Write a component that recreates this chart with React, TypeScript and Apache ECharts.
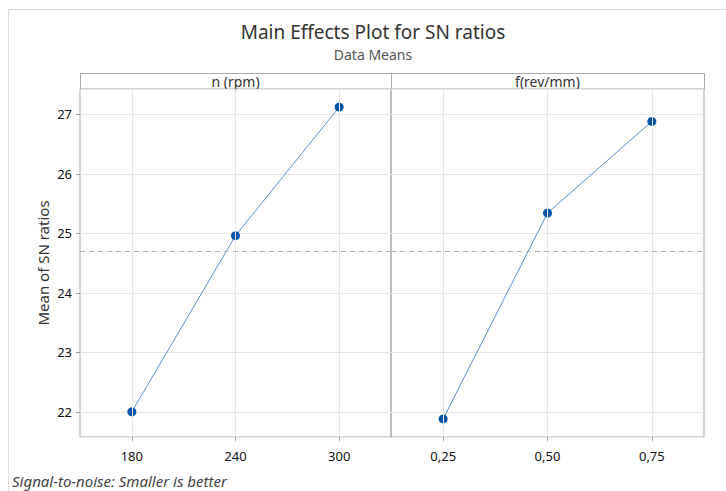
import React, { useEffect, useRef } from "react";
import * as echarts from "echarts";

const titleText = "Main Effects Plot for SN ratios";
const subtitleText = "Data Means";
const footerText = "Signal-to-noise: Smaller is better";
const yAxisName = "Mean of SN ratios";
const factorNames = ["n (rpm)", "f(rev/mm)"];
const nLevels = ["180", "240", "300"];
const nMeans = [22.0, 24.96, 27.12];
const fLevels = ["0,25", "0,50", "0,75"];
const fMeans = [21.88, 25.34, 26.88];
const yMin = 21.577;
const yMax = 27.424;

const FONT = "'Noto Sans', 'Open Sans', sans-serif";

export default function App() {
  const ref = useRef<HTMLDivElement>(null);
  useEffect(() => {
    if (!ref.current) return;
    const chart = echarts.init(ref.current, undefined, { renderer: "svg" });
    const grandMean = nMeans.reduce((a, b) => a + b, 0) / nMeans.length;
    const grids = [
      { left: 80, top: 89, width: 311, height: 348 },
      { left: 391, top: 89, width: 313, height: 348 },
    ];
    const levels = [nLevels, fLevels];
    const means = [nMeans, fMeans];
    const borderColor = "#a9a9a9";
    const gridLineColor = "#e6e6e6";

    const xAxes = levels.map((lv, i) => ({
      type: "category",
      gridIndex: i,
      data: lv,
      boundaryGap: true,
      axisLine: { show: false },
      axisTick: { show: true, alignWithLabel: true, length: 4, lineStyle: { color: "#999" } },
      axisLabel: { color: "#111", fontSize: 13, margin: 12, fontFamily: FONT },
      splitLine: { show: false },
    }));
    const yAxes = levels.map((_, i) => ({
      type: "value",
      gridIndex: i,
      min: yMin,
      max: yMax,
      splitNumber: 5,
      name: i === 0 ? yAxisName : "",
      nameLocation: "middle",
      nameGap: 30,
      nameTextStyle: { color: "#333", fontSize: 15, fontFamily: FONT },
      axisLine: { show: false },
      axisTick: { show: i === 0, length: 4, lineStyle: { color: "#999" } },
      axisLabel: {
        show: i === 0,
        color: "#111",
        fontSize: 13,
        margin: 8,
        fontFamily: FONT,
        showMinLabel: false,
        showMaxLabel: false,
      },
      splitLine: { show: true, lineStyle: { color: gridLineColor, width: 1 } },
    }));

    const series: any[] = [];
    levels.forEach((lv, i) => {
      series.push({
        type: "line",
        xAxisIndex: i,
        yAxisIndex: i,
        data: [],
        z: 1,
        silent: true,
        markLine: {
          silent: true,
          symbol: "none",
          label: { show: false },
          animation: false,
          data: [
            ...lv.map((c) => ({ xAxis: c, lineStyle: { color: gridLineColor, type: "solid", width: 1 } })),
            { yAxis: grandMean, lineStyle: { color: "#b5b5b5", type: [5, 4], width: 1 } },
          ],
        },
      });
      series.push({
        type: "line",
        xAxisIndex: i,
        yAxisIndex: i,
        data: means[i],
        z: 3,
        symbol: "circle",
        symbolSize: 9,
        itemStyle: { color: "#0054a6" },
        lineStyle: { color: "#5b8fd0", width: 1 },
      });
    });

    const graphics: any[] = [
      {
        type: "polyline",
        shape: { points: [[8.5, 491], [8.5, 9.5], [726, 9.5]] },
        style: { stroke: "#dcdcdc", fill: "none", lineWidth: 1 },
        silent: true,
      },
      {
        type: "text",
        x: 373,
        y: 32,
        style: { text: titleText, fill: "#333", fontSize: 19, fontFamily: FONT, textAlign: "center", textVerticalAlign: "middle" },
      },
      {
        type: "text",
        x: 373,
        y: 54,
        style: { text: subtitleText, fill: "#555", fontSize: 14, fontFamily: FONT, textAlign: "center", textVerticalAlign: "middle" },
      },
      {
        type: "text",
        x: 12,
        y: 481,
        style: { text: footerText, fill: "#444", fontSize: 15, fontStyle: "italic", fontFamily: FONT, textAlign: "left", textVerticalAlign: "middle" },
      },
    ];
    grids.forEach((g, i) => {
      graphics.push({
        type: "rect",
        shape: { x: g.left + 0.5, y: 73.5, width: g.width, height: 15.5 },
        style: { fill: "#fff", stroke: borderColor, lineWidth: 1 },
        silent: true,
      });
      graphics.push({
        type: "text",
        x: g.left + g.width / 2,
        y: 81,
        style: { text: factorNames[i], fill: "#333", fontSize: 14, fontFamily: FONT, textAlign: "center", textVerticalAlign: "middle" },
      });
    });

    chart.setOption({
      animation: false,
      backgroundColor: "#fff",
      grid: grids.map((g) => ({ ...g, show: true, borderColor, borderWidth: 1, backgroundColor: "transparent" })),
      xAxis: xAxes,
      yAxis: yAxes,
      series,
      graphic: graphics,
    });
    return () => chart.dispose();
  }, []);
  return <div ref={ref} style={{ position: "fixed", left: 0, top: 0, width: 726, height: 491 }} />;
}
